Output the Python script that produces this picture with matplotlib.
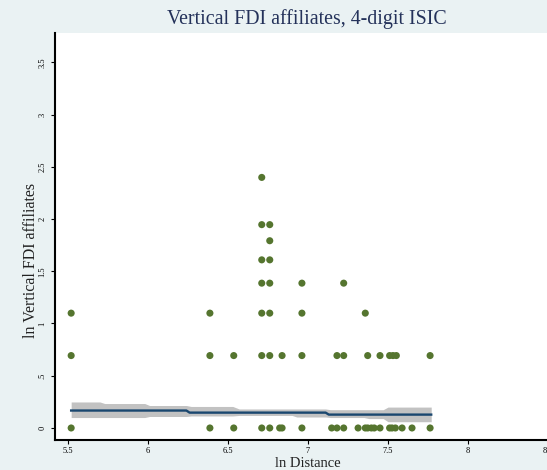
import matplotlib
matplotlib.use("Agg")
import matplotlib.pyplot as plt

# ---- text ----
title = "Vertical FDI affiliates, 4-digit ISIC"
xlabel = "ln Distance"
ylabel = "ln Vertical FDI affiliates"
xticks = [5.5, 6, 6.5, 7, 7.5, 8, 8.5]
xticklabels = ["5.5", "6", "6.5", "7", "7.5", "8", "8.5"]
yticks = [0, 0.5, 1, 1.5, 2, 2.5, 3, 3.5]
yticklabels = ["0", ".5", "1", "1.5", "2", "2.5", "3", "3.5"]

# ---- scatter data (ln distance, ln vertical FDI affiliates) ----
dist = [5.52, 5.52, 5.52,
        6.387, 6.387, 6.387,
        6.536, 6.536,
        6.711, 6.711, 6.711, 6.711, 6.711, 6.711, 6.711,
        6.761, 6.761, 6.761, 6.761, 6.761, 6.761, 6.761,
        6.823,
        6.838, 6.838,
        6.962, 6.962, 6.962, 6.962,
        7.148,
        7.181, 7.181,
        7.223, 7.223, 7.223,
        7.313,
        7.358, 7.358,
        7.373, 7.373,
        7.396,
        7.414,
        7.450, 7.450,
        7.510, 7.510,
        7.525,
        7.531,
        7.546,
        7.552,
        7.588,
        7.650,
        7.763, 7.763]
ln_aff = [0, 0.693, 1.099,
          0, 0.693, 1.099,
          0, 0.693,
          0, 0.693, 1.099, 1.386, 1.609, 1.946, 2.398,
          0, 0.693, 1.099, 1.386, 1.609, 1.792, 1.946,
          0,
          0, 0.693,
          0, 0.693, 1.099, 1.386,
          0,
          0, 0.693,
          0, 0.693, 1.386,
          0,
          0, 1.099,
          0, 0.693,
          0,
          0,
          0, 0.693,
          0, 0.693,
          0,
          0.693,
          0,
          0.693,
          0,
          0,
          0, 0.693]

# ---- fitted line and confidence band ----
fit_x = [5.52, 6.24, 6.26, 7.11, 7.13, 7.77]
fit_y = [0.167, 0.167, 0.147, 0.147, 0.128, 0.128]
band_x = [5.52, 5.70, 5.73, 5.98, 6.01, 6.24, 6.27, 6.53, 6.57, 6.90,
          6.93, 7.11, 7.14, 7.35, 7.38, 7.47, 7.50, 7.77]
band_hi = [0.249, 0.249, 0.234, 0.234, 0.215, 0.215, 0.206, 0.206, 0.182, 0.182,
           0.182, 0.182, 0.175, 0.175, 0.175, 0.175, 0.200, 0.200]
band_lo = [0.100, 0.100, 0.100, 0.100, 0.110, 0.110, 0.115, 0.115, 0.120, 0.120,
           0.105, 0.105, 0.100, 0.100, 0.090, 0.090, 0.060, 0.060]

BG = "#eaf2f3"
serif = ["Liberation Serif", "DejaVu Serif"]

fig = plt.figure(figsize=(5.47, 4.70), dpi=100, facecolor=BG)
ax = fig.add_axes([55 / 547, 30 / 470, 506 / 547, 407 / 470])
ax.set_facecolor("white")

ax.fill_between(band_x, band_lo, band_hi, color="#c2c2c2", lw=0, zorder=1)
ax.plot(fit_x, fit_y, color="#1a476f", lw=1.7, zorder=2)
ax.scatter(dist, ln_aff, s=26, color="#55752f", edgecolors="none", zorder=3)

ax.set_xlim(5.419, 8.581)
ax.set_ylim(-0.115, 3.78)

for s in ["top", "right"]:
    ax.spines[s].set_visible(False)
for s in ["left", "bottom"]:
    ax.spines[s].set_linewidth(1.5)
    ax.spines[s].set_color("black")

ax.set_xticks(xticks)
ax.set_xticklabels(xticklabels, fontsize=6, family=serif)
ax.set_yticks(yticks)
ax.set_yticklabels(yticklabels, fontsize=6, family=serif, rotation=90, va="center")
ax.tick_params(axis="both", direction="out", length=3, width=0.8, pad=2, color="black")
ax.tick_params(axis="y", pad=3)

ax.set_xlabel(xlabel, fontsize=10.5, family=serif, color="#222222")
ax.xaxis.set_label_coords(0.5, -0.058)
ax.xaxis.label.set_va("center")
ax.set_ylabel(ylabel, fontsize=11.5, family=serif, color="#222222")
ax.yaxis.set_label_coords(-0.048, 0.442)
ax.yaxis.label.set_va("center")

fig.text(307 / 547, 1 - 19 / 470, title, ha="center", va="center",
         fontsize=14.3, family=serif, color="#24325a")

fig.savefig("out.png", dpi=100, facecolor=BG)
